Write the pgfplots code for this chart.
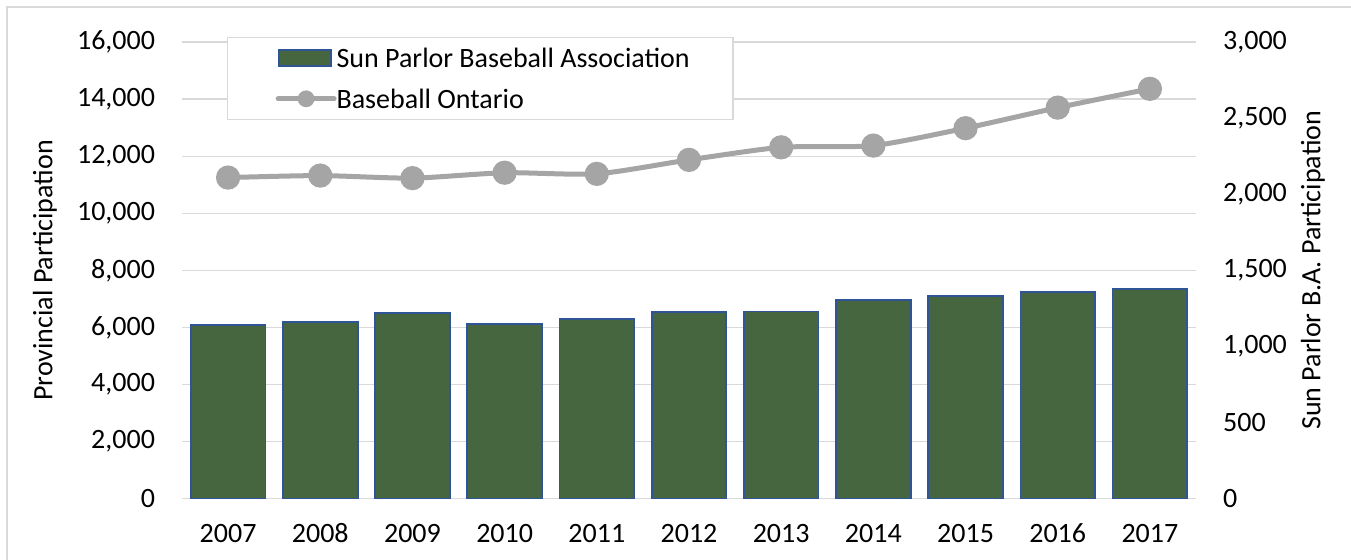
\documentclass[border=0pt]{standalone}
\usepackage{pgfplots}
\pgfplotsset{compat=1.18}
\usepackage{fontspec}
\setmainfont{Carlito}
\definecolor{gridgray}{HTML}{D9D9D9}
\definecolor{barfill}{HTML}{466640}
\definecolor{baredge}{HTML}{2F5597}
\definecolor{linegray}{HTML}{A5A5A5}
\begin{document}
\fontsize{14}{16.8}\selectfont
\begin{tikzpicture}
\useasboundingbox (0,0) rectangle (675.5pt,280pt);
\draw[gridgray, line width=0.6pt] (3.5pt,-10pt) -- (3.5pt,276.5pt) -- (690pt,276.5pt);
% Left axis: Baseball Ontario (provincial)
\begin{axis}[
  at={(91pt,30.65pt)}, anchor=south west,
  scale only axis, width=507pt, height=228.35pt,
  xmin=-0.5, xmax=10.5, ymin=0, ymax=16000,
  xtick={0,...,10},
  xticklabels={2007,2008,2009,2010,2011,2012,2013,2014,2015,2016,2017},
  ytick={0,2000,...,16000},
  scaled y ticks=false,
  yticklabel pos=left,
  /pgf/number format/.cd, 1000 sep={,}, assume math mode=true,
  /pgfplots/.cd,
  ymajorgrids, grid style={gridgray, line width=0.6pt},
  axis line style={draw=none},
  major tick length=0pt,
  xticklabel style={inner sep=0pt, anchor=base, yshift=-22.15pt},
  yticklabel style={inner sep=0pt, anchor=east, xshift=-13.3pt},
  ylabel={Provincial Participation},
  every axis y label/.style={at={(axis description cs:-0.1351,0.5)}, rotate=90, anchor=center},
]
\addplot[linegray, line width=2.5pt, line cap=round, smooth, tension=0.4,
  mark=*, mark size=4.8pt, mark options={draw=none, fill=linegray}]
  coordinates {(0,11250) (1,11320) (2,11230) (3,11420) (4,11380) (5,11870)
               (6,12310) (7,12370) (8,12980) (9,13700) (10,14360)};
\end{axis}
% Right axis: Sun Parlor B.A.
\begin{axis}[
  at={(91pt,30.65pt)}, anchor=south west,
  scale only axis, width=507pt, height=228.35pt,
  xmin=-0.5, xmax=10.5, ymin=0, ymax=3000,
  xtick=\empty,
  ytick={0,500,...,3000},
  scaled y ticks=false,
  yticklabel pos=right,
  /pgf/number format/.cd, 1000 sep={,}, assume math mode=true,
  /pgfplots/.cd,
  axis line style={draw=none},
  major tick length=0pt,
  yticklabel style={inner sep=0pt, anchor=west, xshift=13.35pt},
  ylabel={Sun Parlor B.A. Participation},
  every axis y label/.style={at={(axis description cs:1.1154,0.5)}, rotate=90, anchor=center},
  legend style={at={(axis description cs:0.04408,1.01095)}, anchor=north west,
    draw=gridgray, line width=0.6pt, fill=white,
    inner xsep=0pt, inner ysep=0pt,
    nodes={inner sep=0pt, text depth=0pt},
    cells={anchor=west}},
]
\addplot[ybar, bar width=0.81, fill=barfill, draw=baredge, line width=0.9pt,
  legend image code/.code={
    \path[draw=none, fill=none] (-26pt,-10.2pt) rectangle (28.4pt,10.2pt);
    \path[fill=barfill, draw=baredge, line width=0.9pt] (0pt,-3.9pt) rectangle (26pt,3.9pt);}]
  coordinates {(0,1140) (1,1160) (2,1220) (3,1150) (4,1180) (5,1227)
               (6,1229) (7,1306) (8,1334) (9,1358) (10,1378)};
\addlegendentry{\makebox[198.15pt][l]{Sun Parlor Baseball Association}}
\addlegendimage{linegray, legend image code/.code={
    \path[draw=none, fill=none] (-26pt,-10.2pt) rectangle (28.4pt,10.2pt);
    \path[draw=linegray, fill=none, line width=2.5pt, line cap=round] (-0.6pt,0pt) -- (27.4pt,0pt);
    \path[draw=none, fill=linegray] (13.4pt,0pt) circle (4.2pt);}}
\addlegendentry{Baseball Ontario}
\end{axis}
\end{tikzpicture}
\end{document}
